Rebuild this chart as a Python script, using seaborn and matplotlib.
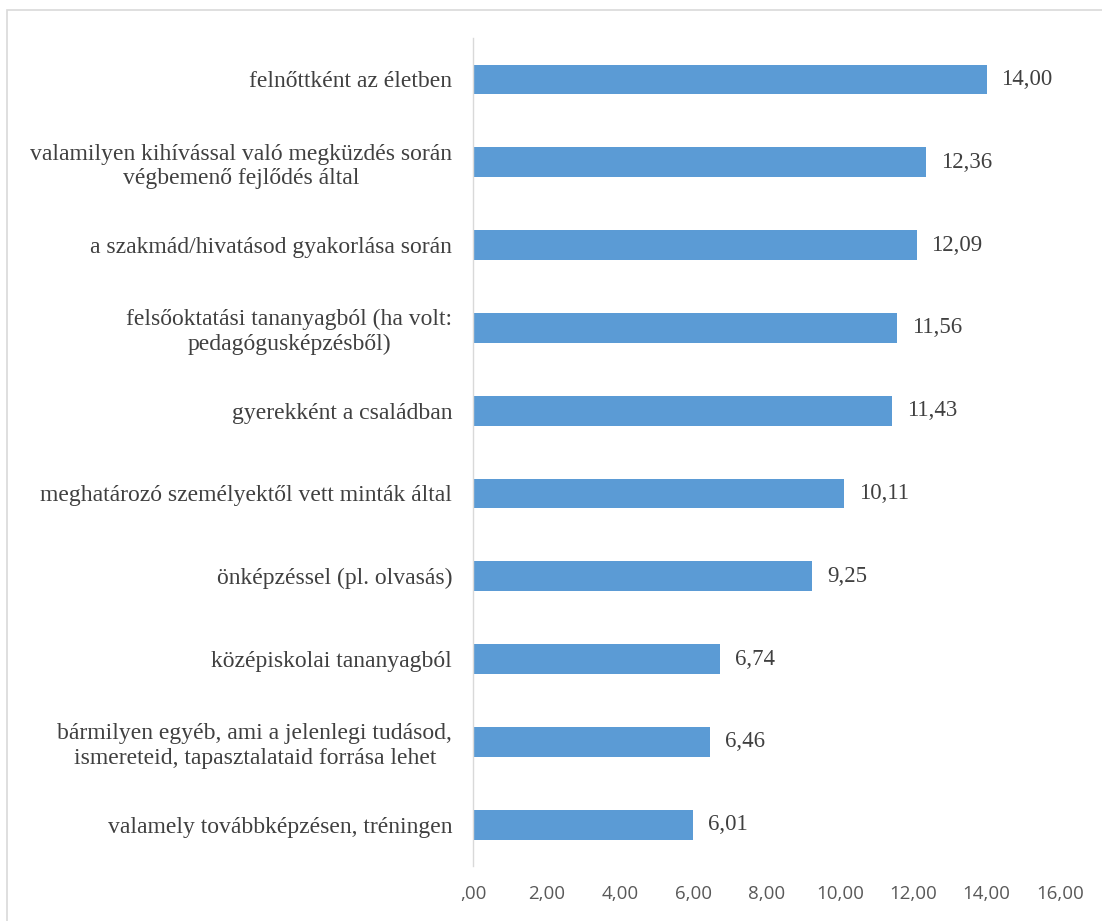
import matplotlib
matplotlib.use("Agg")
import matplotlib.pyplot as plt
import seaborn as sns
import pandas as pd
from matplotlib.patches import Rectangle

categories = [
    "felnőttként az életben",
    "valamilyen kihívással való megküzdés során\nvégbemenő fejlődés által",
    "a szakmád/hivatásod gyakorlása során",
    "felsőoktatási tananyagból (ha volt:\npedagógusképzésből)",
    "gyerekként a családban",
    "meghatározó személyektől vett minták által",
    "önképzéssel (pl. olvasás)",
    "középiskolai tananyagból",
    "bármilyen egyéb, ami a jelenlegi tudásod,\nismereteid, tapasztalataid forrása lehet",
    "valamely továbbképzésen, tréningen",
]
values = [14.00, 12.36, 12.09, 11.56, 11.43, 10.11, 9.25, 6.74, 6.46, 6.01]
x_ticks = [0, 2, 4, 6, 8, 10, 12, 14, 16]
x_tick_labels = [",00", "2,00", "4,00", "6,00", "8,00", "10,00", "12,00", "14,00", "16,00"]

BAR_COLOR = "#5B9BD5"
TEXT_COLOR = "#404040"
SERIF = ["Liberation Serif", "DejaVu Serif"]

sns.set_theme(style="white")
plt.rcParams["font.family"] = ["Liberation Serif", "DejaVu Sans"]

df = pd.DataFrame({"category": categories, "value": values})

fig = plt.figure(figsize=(11.02, 9.21), dpi=100)
ax = fig.add_axes([0.4292, 0.0597, 0.5327, 0.899])

sns.barplot(data=df, x="value", y="category", color=BAR_COLOR,
            saturation=1, width=0.36, orient="h", ax=ax, edgecolor="none")

ax.set_xlim(0, 16)
ax.set_ylim(len(categories) - 0.5, -0.5)
ax.set_xticks(x_ticks)
ax.set_xticklabels(x_tick_labels, fontsize=13.5, color="#595959",
                   family=["Open Sans", "DejaVu Sans"])
ax.set_yticks(range(len(categories)))
ax.set_yticklabels(categories, fontsize=17, color=TEXT_COLOR,
                   family=SERIF, ha="right", multialignment="center",
                   linespacing=1.2)
ax.tick_params(axis="y", length=0, pad=15)
ax.tick_params(axis="x", length=0, pad=14)
ax.set_xlabel("")
ax.set_ylabel("")

for side in ["top", "right", "bottom"]:
    ax.spines[side].set_visible(False)
ax.spines["left"].set_color("#D9D9D9")
ax.spines["left"].set_linewidth(1.0)

for i, v in enumerate(values):
    ax.text(v + 0.4, i, f"{v:.2f}".replace(".", ","), va="center", ha="left",
            fontsize=16.5, color=TEXT_COLOR, family=SERIF)

# light outer frame of the chart area
fig.patches.append(Rectangle((7 / 1102, -0.05), 1.2, 1 - 10 / 921 + 0.05,
                             transform=fig.transFigure, fill=False,
                             edgecolor="#D9D9D9", linewidth=1.2))

fig.savefig("out.png", dpi=100, facecolor="white")
